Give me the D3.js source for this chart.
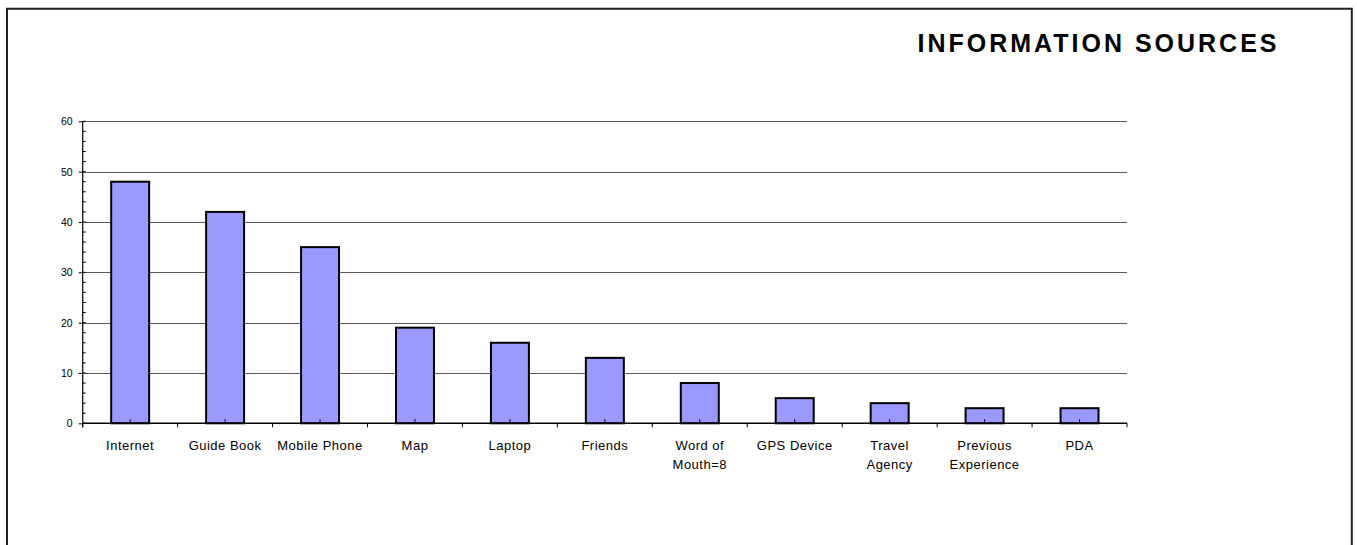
<!DOCTYPE html>
<html>
<head>
<meta charset="utf-8">
<script src="https://cdn.jsdelivr.net/npm/d3@7"></script>
<style>
  html, body { margin: 0; padding: 0; background: #fff; }
  svg { display: block; font-family: "Liberation Sans", Arial, sans-serif; }
</style>
</head>
<body>
<svg id="chart" width="1357" height="545"></svg>
<script>
const title = "INFORMATION SOURCES";
const categories = ["Internet", "Guide Book", "Mobile Phone", "Map", "Laptop", "Friends",
  "Word of Mouth=8", "GPS Device", "Travel Agency", "Previous Experience", "PDA"];
const labelLines = [["Internet"], ["Guide Book"], ["Mobile Phone"], ["Map"], ["Laptop"], ["Friends"],
  ["Word of", "Mouth=8"], ["GPS Device"], ["Travel", "Agency"], ["Previous", "Experience"], ["PDA"]];
const values = [48, 42, 35, 19, 16, 13, 8, 5, 4, 3, 3];
const yTicks = [0, 10, 20, 30, 40, 50, 60];
const yMinorTicks = d3.range(0, 61, 2);

(function () {
const svg = d3.select("#chart");

// outer frame (open at the bottom)
svg.append("path")
  .attr("d", "M7,545 L7,8.8 L1351.8,8.8 L1351.8,545")
  .attr("fill", "none").attr("stroke", "#222").attr("stroke-width", 2);

const pLeft = 82.7, pRight = 1127, pTop = 121.3, pBottom = 423.3;
const x = d3.scaleBand().domain(categories).range([pLeft, pRight]).paddingInner(0.6).paddingOuter(0.3);
const xCat = d3.scaleBand().domain(categories).range([pLeft, pRight]);
const y = d3.scaleLinear().domain([0, 60]).range([pBottom, pTop]);

// gridlines
svg.append("g").selectAll("line").data(yTicks.filter(d => d > 0)).join("line")
  .attr("x1", pLeft).attr("x2", pRight)
  .attr("y1", d => Math.round(y(d)) + 0.5).attr("y2", d => Math.round(y(d)) + 0.5)
  .attr("stroke", "#5a5a5a").attr("stroke-width", 1);

// y axis
const yAxis = d3.axisLeft(y).tickValues(yTicks).tickSize(4).tickPadding(6).tickFormat(d3.format("d"));
const gy = svg.append("g").attr("transform", `translate(${pLeft},0)`).call(yAxis);
gy.select(".domain").remove();
gy.selectAll(".tick line").attr("stroke", "#000");
gy.selectAll(".tick text").attr("font-size", "10.5px").attr("fill", "#000")
  .attr("font-family", "Liberation Sans, Arial, sans-serif");
svg.append("line").attr("x1", pLeft).attr("x2", pLeft).attr("y1", pTop).attr("y2", pBottom + 4)
  .attr("stroke", "#000").attr("stroke-width", 1.2);
// minor ticks inside
svg.append("g").selectAll("line").data(yMinorTicks).join("line")
  .attr("x1", pLeft).attr("x2", pLeft + 3)
  .attr("y1", d => y(d)).attr("y2", d => y(d))
  .attr("stroke", "#000").attr("stroke-width", 1);

// bars
svg.append("g").selectAll("rect").data(values).join("rect")
  .attr("x", (d, i) => x(categories[i]))
  .attr("width", x.bandwidth())
  .attr("y", d => y(d))
  .attr("height", d => y(0) - y(d))
  .attr("fill", "#9999ff").attr("stroke", "#000").attr("stroke-width", 2);

// x axis line
svg.append("line").attr("x1", pLeft).attr("x2", pRight).attr("y1", pBottom).attr("y2", pBottom)
  .attr("stroke", "#000").attr("stroke-width", 1.5);
// category boundary ticks
const bounds = categories.map(c => xCat(c)).concat([pRight]);
svg.append("g").selectAll("line").data(bounds).join("line")
  .attr("x1", d => d).attr("x2", d => d).attr("y1", pBottom).attr("y2", pBottom + 4)
  .attr("stroke", "#000").attr("stroke-width", 1);
// center minor ticks (inside)
svg.append("g").selectAll("line").data(categories).join("line")
  .attr("x1", d => xCat(d) + xCat.bandwidth() / 2).attr("x2", d => xCat(d) + xCat.bandwidth() / 2)
  .attr("y1", pBottom).attr("y2", pBottom - 4)
  .attr("stroke", "#000").attr("stroke-width", 1);

// category labels
const lab = svg.append("g").selectAll("text").data(categories).join("text")
  .attr("x", d => xCat(d) + xCat.bandwidth() / 2)
  .attr("y", 450)
  .attr("text-anchor", "middle")
  .attr("font-size", "13px").attr("letter-spacing", "0.5px").attr("fill", "#000");
lab.selectAll("tspan").data((d, i) => labelLines[i]).join("tspan")
  .attr("x", function () { return d3.select(this.parentNode).attr("x"); })
  .attr("dy", (d, j) => j === 0 ? 0 : 19)
  .text(d => d);

// title
svg.append("text")
  .attr("x", 1097).attr("y", 52)
  .attr("text-anchor", "middle")
  .attr("font-size", "25px").attr("font-weight", "bold").attr("fill", "#000")
  .attr("textLength", 359).attr("lengthAdjust", "spacing")
  .text(title);
})();
</script>
</body>
</html>
